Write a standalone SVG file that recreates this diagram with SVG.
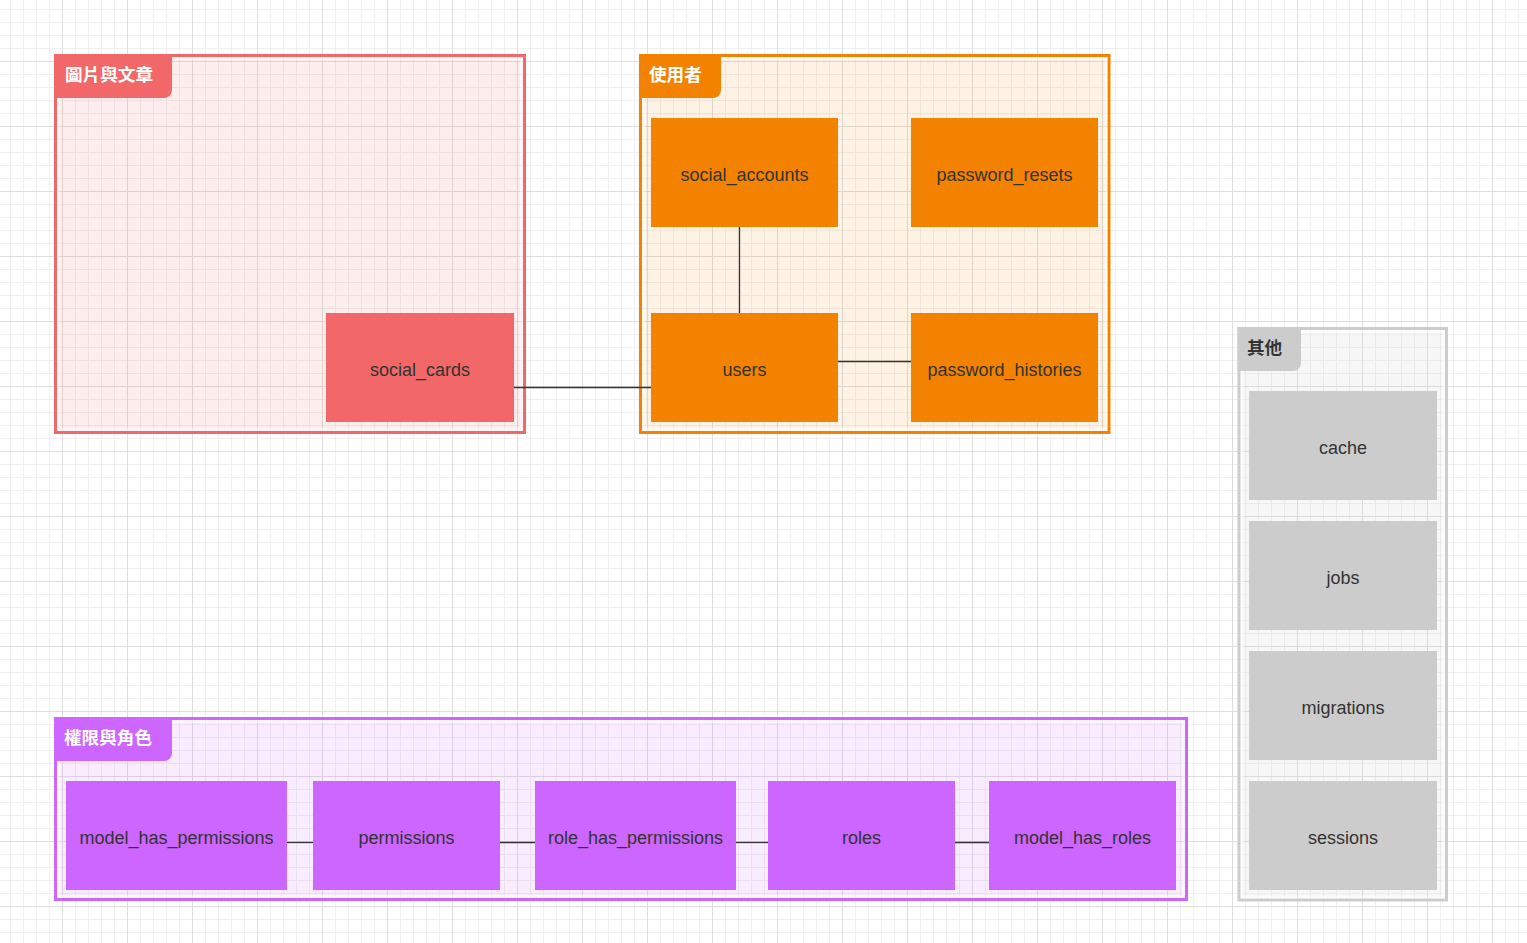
<svg xmlns="http://www.w3.org/2000/svg" width="1527" height="943" viewBox="0 0 1527 943">
<defs>
<pattern id="grid" x="62" y="61" width="65" height="65" patternUnits="userSpaceOnUse">
<path d="M13.5 0V65M26.5 0V65M39.5 0V65M52.5 0V65M0 13.5H65M0 26.5H65M0 39.5H65M0 52.5H65" stroke="#f0f0f0" stroke-width="1" fill="none"/>
<path d="M0.5 0V65M0 0.5H65" stroke="#dedede" stroke-width="1" fill="none"/>
</pattern>
</defs>
<style>
.lbl{font-family:"Liberation Sans",Arial,sans-serif;font-size:18px;fill:#333333;text-anchor:middle}
.ttl{font-family:"Noto Sans CJK TC","Noto Sans CJK SC",sans-serif;font-size:17.6px;font-weight:bold;fill:#ffffff}
.inner{fill:none;stroke:#ffffff;stroke-opacity:0.5;stroke-width:3}
.edge{fill:none;stroke:#333333;stroke-width:1.3}
.red{fill:#f26868}
.org{fill:#f38200}
.gry{fill:#cccccc}
.pur{fill:#cc66ff}
</style>
<rect width="1527" height="943" fill="#ffffff"/>
<rect width="1527" height="943" fill="url(#grid)"/>

<g id="group-images">
<rect x="55.5" y="55.5" width="469" height="377" fill="#f26868" fill-opacity="0.12" stroke="#f26868" stroke-width="3"/>
<rect x="58.5" y="58.5" width="463" height="371" class="inner"/>
<path d="M54 54H172V90A8 8 0 0 1 164 98H54Z" class="red"/>
<text x="65" y="81" class="ttl">圖片與文章</text>
</g>

<g id="group-users">
<rect x="640.5" y="55.5" width="468.5" height="377" fill="#f38200" fill-opacity="0.1" stroke="#f38200" stroke-width="3"/>
<rect x="643.5" y="58.5" width="462.5" height="371" class="inner"/>
<path d="M639 54H721V90A8 8 0 0 1 713 98H639Z" class="org"/>
<text x="649" y="81" class="ttl">使用者</text>
</g>

<g id="group-other">
<rect x="1239" y="328.5" width="207.5" height="571.5" fill="#cccccc" fill-opacity="0.15" stroke="#cccccc" stroke-width="3"/>
<rect x="1242" y="331.5" width="201.5" height="565.5" class="inner"/>
<path d="M1237.5 327H1301V363A8 8 0 0 1 1293 371H1237.5Z" class="gry"/>
<text x="1247" y="354" class="ttl" style="fill:#333333">其他</text>
</g>

<g id="group-permissions">
<rect x="55.5" y="718.5" width="1131" height="181" fill="#cc66ff" fill-opacity="0.12" stroke="#cc66ff" stroke-width="3"/>
<rect x="58.5" y="721.5" width="1125" height="175" class="inner"/>
<path d="M54 717H172V753A8 8 0 0 1 164 761H54Z" class="pur"/>
<text x="64" y="744" class="ttl">權限與角色</text>
</g>

<g id="connectors">
<path class="edge" d="M514 387.5H651"/>
<path class="edge" d="M838 361.5H911"/>
<path class="edge" d="M739.5 227V313"/>
<path class="edge" d="M287 842.5H313"/>
<path class="edge" d="M500 842.5H535"/>
<path class="edge" d="M736 842.5H768"/>
<path class="edge" d="M955 842.5H989"/>
</g>

<g id="node-social_cards"><rect x="326" y="313" width="188" height="109" class="red"/><text x="420" y="376" class="lbl">social_cards</text></g>
<g id="node-social_accounts"><rect x="651" y="118" width="187" height="109" class="org"/><text x="744.5" y="181" class="lbl">social_accounts</text></g>
<g id="node-password_resets"><rect x="911" y="118" width="187" height="109" class="org"/><text x="1004.5" y="181" class="lbl">password_resets</text></g>
<g id="node-users"><rect x="651" y="313" width="187" height="109" class="org"/><text x="744.5" y="376" class="lbl">users</text></g>
<g id="node-password_histories"><rect x="911" y="313" width="187" height="109" class="org"/><text x="1004.5" y="376" class="lbl">password_histories</text></g>

<g id="node-cache"><rect x="1249" y="391" width="188" height="109" class="gry"/><text x="1343" y="454" class="lbl">cache</text></g>
<g id="node-jobs"><rect x="1249" y="521" width="188" height="109" class="gry"/><text x="1343" y="584" class="lbl">jobs</text></g>
<g id="node-migrations"><rect x="1249" y="651" width="188" height="109" class="gry"/><text x="1343" y="714" class="lbl">migrations</text></g>
<g id="node-sessions"><rect x="1249" y="781" width="188" height="109" class="gry"/><text x="1343" y="844" class="lbl">sessions</text></g>

<g id="node-model_has_permissions"><rect x="66" y="781" width="221" height="109" class="pur"/><text x="176.5" y="844" class="lbl">model_has_permissions</text></g>
<g id="node-permissions"><rect x="313" y="781" width="187" height="109" class="pur"/><text x="406.5" y="844" class="lbl">permissions</text></g>
<g id="node-role_has_permissions"><rect x="535" y="781" width="201" height="109" class="pur"/><text x="635.5" y="844" class="lbl">role_has_permissions</text></g>
<g id="node-roles"><rect x="768" y="781" width="187" height="109" class="pur"/><text x="861.5" y="844" class="lbl">roles</text></g>
<g id="node-model_has_roles"><rect x="989" y="781" width="187" height="109" class="pur"/><text x="1082.5" y="844" class="lbl">model_has_roles</text></g>
</svg>
